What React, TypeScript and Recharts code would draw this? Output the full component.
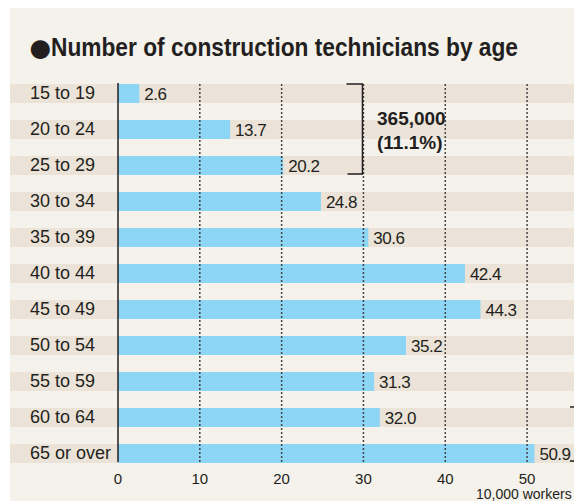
import React from 'react';
import { BarChart, Bar, XAxis, YAxis, ReferenceLine, LabelList } from 'recharts';

// age groups, top to bottom
const AGE_GROUPS = [
  '15 to 19', '20 to 24', '25 to 29', '30 to 34', '35 to 39', '40 to 44',
  '45 to 49', '50 to 54', '55 to 59', '60 to 64', '65 or over',
];
// workers, in units of 10,000
const WORKERS = [2.6, 13.7, 20.2, 24.8, 30.6, 42.4, 44.3, 35.2, 31.3, 32.0, 50.9];
const X_TICKS = [0, 10, 20, 30, 40, 50];
const GRID_LINES = [10, 20, 30, 40, 50];
const X_MAX = 55;

const BULLET = '●';
const TITLE = 'Number of construction technicians by age';
const UNIT_LABEL = '10,000 workers';
const YOUTH_TOTAL = '365,000';
const YOUTH_SHARE = '(11.1%)';

const W = 574;
const H = 501;
const PLOT_LEFT = 118;
const PLOT_RIGHT = 568;
const PLOT_TOP = 83;
const PLOT_BOTTOM = 462;
const ROW = 36;
const BAR_H = 19;

const INK = '#231f20';
const PANEL = '#f5f1eb';
const STRIPE = '#ebe3d7';
const BAR_FILL = '#8cd5f5';
const FONT = '"Liberation Sans", Arial, sans-serif';

const data = AGE_GROUPS.map((age, i) => ({ age, value: WORKERS[i] }));

function StripeBg(props: any) {
  return <rect x={10} y={props.y} width={W - 10} height={props.height} fill={STRIPE} />;
}

function AgeTick({ y, payload }: any) {
  return (
    <text x={30} y={y} dy="0.36em" fontSize={18} fill={INK} fontFamily={FONT}>
      {payload.value}
    </text>
  );
}

const xAt = (v: number) => PLOT_LEFT + (v * (PLOT_RIGHT - PLOT_LEFT)) / X_MAX;

export default function App() {
  const bx = xAt(30) - 1;
  const bTop = PLOT_TOP + 1;
  const bBottom = PLOT_TOP + 2 * ROW + BAR_H;
  const oldTop = PLOT_TOP + 9 * ROW;

  return (
    <div style={{ position: 'absolute', left: 0, top: 0, width: W, height: H, background: '#fff' }}>
      <div style={{ position: 'absolute', left: 10, top: 8, width: W - 10, height: H - 8, background: PANEL }} />

      <div style={{ position: 'absolute', left: 0, top: 0 }}>
        <BarChart
          width={W}
          height={H}
          data={data}
          layout="vertical"
          margin={{ top: PLOT_TOP, right: W - PLOT_RIGHT, bottom: 0, left: 0 }}
        >
          <Bar
            dataKey="value"
            fill={BAR_FILL}
            barSize={BAR_H}
            background={StripeBg}
            isAnimationActive={false}
          >
            <LabelList
              dataKey="value"
              position="right"
              offset={5}
              fill={INK}
              fontSize={17}
              letterSpacing={-0.5}
              fontFamily={FONT}
              formatter={(v: any) => Number(v).toFixed(1)}
            />
          </Bar>
          <XAxis
            type="number"
            domain={[0, X_MAX]}
            ticks={X_TICKS}
            axisLine={false}
            tickLine={false}
            tickMargin={5}
            height={H - PLOT_BOTTOM}
            tick={{ fill: INK, fontSize: 15, fontFamily: FONT }}
          />
          <YAxis
            type="category"
            dataKey="age"
            width={PLOT_LEFT}
            padding={{ top: -8, bottom: -9 }}
            axisLine={{ stroke: INK, strokeWidth: 1.5 }}
            tickLine={false}
            tick={<AgeTick />}
          />
          {GRID_LINES.map((v) => (
            <ReferenceLine key={v} x={v} stroke="#444" strokeWidth={1.5} strokeDasharray="2 2" />
          ))}
        </BarChart>
      </div>

      <svg width={W} height={H} style={{ position: 'absolute', left: 0, top: 0, pointerEvents: 'none' }}>
        <text x={27} y={62} fontSize={44} fill={INK} fontFamily={FONT}>
          {BULLET}
        </text>
        <text
          x={51}
          y={56}
          fontSize={25}
          fontWeight={700}
          fill={INK}
          fontFamily={FONT}
          textLength={467}
          lengthAdjust="spacingAndGlyphs"
        >
          {TITLE}
        </text>

        <path
          d={`M${bx - 16},${bTop} H${bx} V${bBottom} H${bx - 15}`}
          fill="none"
          stroke={INK}
          strokeWidth={1.5}
        />
        <text x={377} y={125} fontSize={19} fontWeight={700} fill={INK} fontFamily={FONT}>
          {YOUTH_TOTAL}
        </text>
        <text x={377} y={149} fontSize={19} fontWeight={700} fill={INK} fontFamily={FONT}>
          {YOUTH_SHARE}
        </text>

        <path d={`M570,${oldTop} H${W}`} stroke={INK} strokeWidth={1.5} />
        <path d={`M570,${PLOT_BOTTOM - 1} H${W}`} stroke={INK} strokeWidth={1.5} />

        <text x={476} y={499} fontSize={14} fill={INK} fontFamily={FONT}>
          {UNIT_LABEL}
        </text>
      </svg>
    </div>
  );
}
